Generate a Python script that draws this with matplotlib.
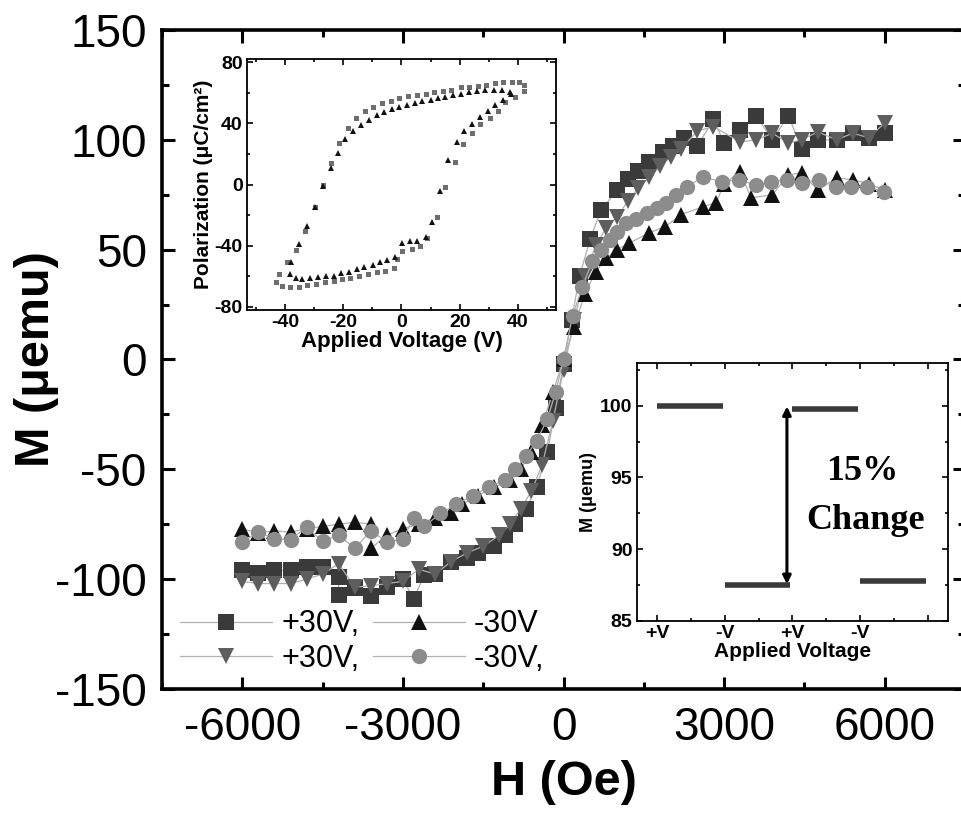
import matplotlib

matplotlib.use("Agg")
import matplotlib.pyplot as plt
from matplotlib.ticker import MultipleLocator

plt.rcParams["font.family"] = ["Liberation Sans", "DejaVu Sans"]
plt.rcParams["axes.unicode_minus"] = False

# ---- main panel: M-H loops under +/-30V ----
h_sq = [-6000, -5700, -5400, -5100, -4800, -4500, -4200, -4200, -3900, -3600, -3300, -3000,
        -2800, -2600, -2400, -2100, -1800, -1600, -1300, -1100, -900, -700, -500, -300, -150,
        0, 150, 300, 500, 700, 1000, 1200, 1400, 1600, 1850, 2050, 2250, 2500, 2800, 3000,
        3300, 3600, 3900, 4200, 4450, 4750, 5100, 5400, 5700, 6000]
m_sq = [-96, -97, -96, -96, -94.5, -94.5, -99, -107, -104, -107.7, -103.6, -100,
        -109, -98, -97.7, -92, -90.5, -88, -85, -80, -75, -68, -58, -42, -22,
        -2, 18, 38, 55, 68, 77, 82, 86, 90, 94.5, 97, 101, 97, 109.5, 98.6,
        104.5, 111, 100, 111, 96, 100, 100, 103, 101, 103]

h_dn = [-6000, -5700, -5400, -5100, -4800, -4500, -4200, -3900, -3600, -3300, -3000, -2700,
        -2400, -2100, -1800, -1500, -1200, -1000, -800, -600, -400, -200, 0, 200, 400, 600,
        800, 1000, 1200, 1400, 1600, 1800, 2000, 2200, 2500, 2800, 3300, 3600, 3900, 4200,
        4450, 4750, 5100, 5400, 5700, 6000]
m_dn = [-101, -102, -102, -102, -100, -97.7, -93, -103.6, -103, -102, -101, -95.5,
        -97.7, -92, -88, -85, -80, -75, -68, -60, -48, -28, -5, 18, 38, 52,
        60, 65, 72, 78, 83, 88, 92, 96, 104, 106, 99, 100, 103, 98.6,
        100, 103.6, 100, 103, 101, 107.7]

h_up = [-6000, -5700, -5400, -5100, -4800, -4500, -4200, -3900, -3600, -3600, -3300, -3000,
        -2700, -2400, -2100, -1900, -1600, -1300, -1000, -800, -600, -400, -200, 0, 200,
        400, 600, 800, 1000, 1230, 1600, 1900, 2200, 2600, 2850, 3000, 3300, 3500, 3900,
        4200, 4450, 4750, 5100, 5400, 5700, 6000]
m_up = [-77, -79, -78, -78.6, -77, -76, -75, -74, -75, -86, -80, -77,
        -75, -72, -70, -66, -62, -58, -55, -50, -42, -30, -15, 0, 15,
        30, 40, 46, 50, 53, 57.7, 60.5, 66, 69.5, 71.4, 80, 85.5, 73.6, 75,
        84, 85, 77, 82.7, 81.8, 80, 77]

h_ci = [-6000, -5700, -5400, -5100, -4800, -4500, -4200, -3900, -3600, -3300, -3000, -2800,
        -2600, -2300, -2000, -1700, -1400, -1100, -900, -700, -500, -300, -150, 0, 170,
        350, 540, 700, 860, 1000, 1170, 1350, 1550, 1750, 1920, 2100, 2300, 2600, 2960,
        3280, 3600, 3880, 4170, 4450, 4770, 5090, 5370, 5660, 5980]
m_ci = [-83, -78.6, -81.8, -82, -76.4, -82.7, -80, -86, -78, -83, -81.8, -72,
        -76, -70, -66, -62, -58, -55, -50, -44, -37, -27, -15, 0, 20,
        33, 45, 50, 54.5, 58, 62, 64, 66.8, 69, 71.4, 75, 78.6, 83, 81,
        81.8, 79.5, 81, 81.8, 80.5, 81.8, 78.6, 78.6, 78.6, 76.4]

# ---- upper inset: P-E loops ----
v_sq = [42.2, 40.2, 37.9, 35, 32, 29.1, 26.2, 23.1, 20.3, 17.1, 14.2, 11.1, 8.3, 5.2, 2.3,
        -0.8, -3.6, -6.7, -9.6, -12.5, -15.6, -18.4, -21.3, -24.1, -27, -29.8, -33.2,
        -36.3, -39.1, -42.1, -42.9, -41, -38.1, -35.3, -32.4, -29.2, -26.4, -23.2, -20.4,
        -17.5, -14.4, -11.4, -8.4, -5.6, -2.7, -1.4, 0.3, 3.5, 6.4, 8.9, 12.1, 14.9, 18.2,
        21.2, 24.2, 27.1, 30.3, 33.1, 35.6, 39, 42.2]
p_sq = [65.2, 66.7, 66.7, 66.7, 66, 65.2, 64.5, 63.9, 63.4, 61.7, 61.3, 60.2, 59.1, 58.7, 57.6,
        56.3, 54.8, 53.1, 50.5, 48, 43.7, 36.6, 26.9, 14, -0.6, -14.6, -30.1,
        -42.6, -50.5, -58.7, -63.9, -66.2, -66.7, -66.7, -65.6, -64.9, -63.9, -62.8, -61.7,
        -60.9, -59.8, -58.7, -57.4, -56.3, -54.4, -48.4, -43.7, -42.4, -40.4, -35.1, -20.9,
        -1.5, 14.6, 26.5, 33.8, 39.4, 43.7, 48, 53.8, 57, 61.3]

v_tr = [37.3, 34.5, 31.6, 28.8, 25.9, 23.3, 20.5, 17.7, 15.1, 12.5, 10, 7.2, 4.6, 2, -0.8,
        -3.3, -5.9, -8.4, -11, -13.9, -16.5, -19.2, -21.8, -24.3, -27, -29.8, -32.3, -35.2,
        -37.8, -38.1, -36.3, -34, -31.3, -28.7, -25.8, -23.2, -20.7, -18.1, -15.2, -12.7,
        -9.9, -7.3, -4.8, -2.2, 0.3, 3, 5.5, 8.3, 10.6, 13.2, 16, 19.1, 21.6, 24.2, 26.8,
        29.6, 32.2, 35, 37.5]
p_tr = [60.2, 61.7, 61.9, 61.7, 60.9, 60.2, 59.1, 58.5, 57.4, 56.3, 55.3, 54.4, 53.3, 52, 50.5,
        49.5, 47.7, 45.2, 42.4, 39.1, 35.1, 29.5, 20.9, 10.8, -1.1, -14.4, -26.9, -39.1,
        -50.5, -58.7, -60.9, -61.7, -61.3, -60.6, -59.8, -59.6, -58.1, -57, -55.3, -53.8,
        -52.3, -50.5, -49, -47.3, -38.1, -37.2, -36.6, -34.4, -24.7, -4.3, 16.1, 28, 34.8,
        39.8, 44.1, 48, 52, 55.5, 59.1]

# ---- lower inset: M switching ----
sw_pos = [0, 1, 2, 3]
sw_m = [100, 87.5, 99.8, 87.8]
sw_labels = ["+V", "-V", "+V", "-V", ""]

fig = plt.figure(figsize=(9.61, 8.15), dpi=100)
ax = fig.add_axes([0.1686, 0.1546, 0.8356, 0.8086])

line_kw = dict(color="#b0b0b0", lw=0.9, ms=11, markeredgewidth=0)
l_sq, = ax.plot(h_sq, m_sq, marker="s", mfc="#3a3a3a", label="+30V,", **line_kw)
l_dn, = ax.plot(h_dn, m_dn, marker="v", mfc="#5e5e5e", label="+30V,", **line_kw)
l_up, = ax.plot(h_up, m_up, marker="^", mfc="#111111", label="-30V", **line_kw)
l_ci, = ax.plot(h_ci, m_ci, marker="o", mfc="#8c8c8c", label="-30V,", **line_kw)

ax.set_xlim(-7500, 7500)
ax.set_ylim(-150, 150)
ax.xaxis.set_major_locator(MultipleLocator(3000))
ax.xaxis.set_minor_locator(MultipleLocator(1500))
ax.yaxis.set_major_locator(MultipleLocator(50))
ax.yaxis.set_minor_locator(MultipleLocator(25))
ax.tick_params(which="both", direction="in", top=True, right=True, width=2.2)
ax.tick_params(which="major", length=9, labelsize=33)
ax.tick_params(which="minor", length=5)
ax.tick_params(axis="x", pad=12)
ax.tick_params(axis="y", pad=11)
for s in ax.spines.values():
    s.set_linewidth(2.6)
ax.set_xlabel("H (Oe)", fontsize=35, fontweight="bold")
ax.set_ylabel("M (μemu)", fontsize=35, fontweight="bold")
ax.xaxis.set_label_coords(0.5, -0.108)
ax.yaxis.set_label_coords(-0.128, 0.5)

ax.legend(handles=[l_sq, l_dn, l_up, l_ci], ncol=2, loc="lower left",
          bbox_to_anchor=(0.0, -0.005), frameon=False, fontsize=22,
          handlelength=3.0, handletextpad=0.3, columnspacing=0.45,
          labelspacing=0.15, borderaxespad=0.2)

# upper-left inset
ax1 = fig.add_axes([0.257, 0.6196, 0.3215, 0.308])
ax1.plot(v_sq, p_sq, "s", ms=3.6, color="#6e6e6e", markeredgewidth=0)
ax1.plot(v_tr, p_tr, "^", ms=5, color="#111111", markeredgewidth=0)
ax1.set_xlim(-53, 53)
ax1.set_ylim(-82, 82)
ax1.xaxis.set_major_locator(MultipleLocator(20))
ax1.xaxis.set_minor_locator(MultipleLocator(10))
ax1.yaxis.set_major_locator(MultipleLocator(40))
ax1.yaxis.set_minor_locator(MultipleLocator(20))
ax1.tick_params(which="both", direction="in", top=True, right=True, width=1.2)
ax1.tick_params(which="major", length=4, labelsize=14, pad=3)
ax1.tick_params(which="minor", length=2.5)
for lab in ax1.get_xticklabels() + ax1.get_yticklabels():
    lab.set_fontweight("bold")
for s in ax1.spines.values():
    s.set_linewidth(1.3)
ax1.set_xlabel("Applied Voltage (V)", fontsize=16, fontweight="bold", labelpad=0)
ax1.set_ylabel("Polarization (μC/cm²)", fontsize=15, fontweight="bold", labelpad=1)

# lower-right inset
ax2 = fig.add_axes([0.6625, 0.2384, 0.324, 0.3166])
ax2.hlines(sw_m, [p for p in sw_pos], [p + 0.97 for p in sw_pos], color="#3a3a3a", lw=4)
ax2.annotate("", xy=(1.92, 99.95), xytext=(1.92, 87.55),
             arrowprops=dict(arrowstyle="<|-|>", color="black", lw=2.2, mutation_scale=12,
                             shrinkA=0, shrinkB=0))
ax2.text(3.03, 95.4, "15%", fontsize=26, fontweight="bold", family="Liberation Serif",
         ha="center", va="center")
ax2.text(3.08, 92.0, "Change", fontsize=26, fontweight="bold", family="Liberation Serif",
         ha="center", va="center")
ax2.set_xlim(-0.3, 4.3)
ax2.set_ylim(85, 103)
ax2.set_xticks(range(len(sw_labels)))
ax2.set_xticklabels(sw_labels)
ax2.xaxis.set_minor_locator(MultipleLocator(0.5))
ax2.yaxis.set_major_locator(MultipleLocator(5))
ax2.yaxis.set_minor_locator(MultipleLocator(2.5))
ax2.tick_params(which="both", direction="in", top=True, right=True, width=1.2)
ax2.tick_params(which="major", length=4, labelsize=14, pad=3)
ax2.tick_params(which="minor", length=2.5)
for lab in ax2.get_xticklabels() + ax2.get_yticklabels():
    lab.set_fontweight("bold")
for s in ax2.spines.values():
    s.set_linewidth(1.3)
ax2.set_xlabel("Applied Voltage", fontsize=15, fontweight="bold", labelpad=0)
ax2.set_ylabel("M (μemu)", fontsize=13, fontweight="bold", labelpad=2)

fig.savefig("out.png", dpi=100)
plt.close(fig)
